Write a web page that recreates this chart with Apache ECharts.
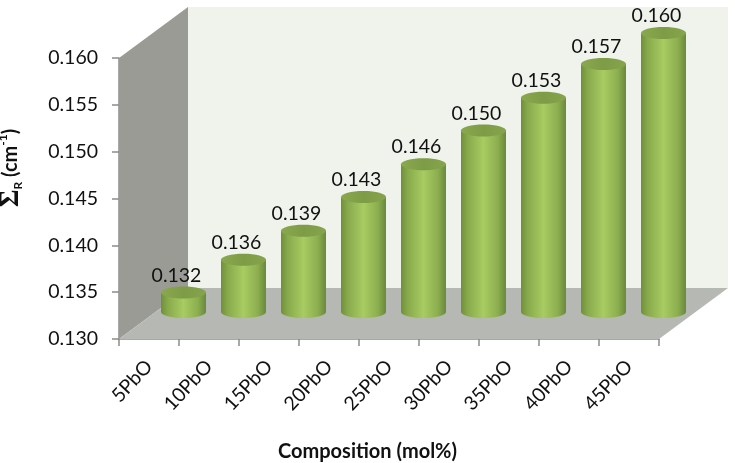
<!DOCTYPE html>
<html><head><meta charset="utf-8">
<style>html,body{margin:0;padding:0;background:#fff}#c{width:735px;height:463px}</style>
<script src="https://cdn.jsdelivr.net/npm/echarts@6/dist/echarts.min.js"></script>
</head><body><div id="c"></div>
<script>
const categories=['5PbO','10PbO','15PbO','20PbO','25PbO','30PbO','35PbO','40PbO','45PbO'];
const values=[0.1323,0.1358,0.1389,0.1425,0.1460,0.1496,0.1531,0.1567,0.1600];
const valueLabels=['0.132','0.136','0.139','0.143','0.146','0.150','0.153','0.157','0.160'];
const yMin=0.130,yMax=0.160,yStep=0.005;
const FONT='Lato, "Open Sans", sans-serif';
const DX=69,DY=51,BW=45,RY=6;
const chart=echarts.init(document.getElementById('c'),null,{renderer:'canvas'});
const bodyGrad={type:'linear',x:0,y:0,x2:1,y2:0,colorStops:[
 {offset:0,color:'#6f9039'},{offset:.15,color:'#88aa4c'},{offset:.5,color:'#a8cb62'},{offset:.82,color:'#8cae4f'},{offset:1,color:'#688a3a'}]};
const topGrad={type:'linear',x:0,y:0,x2:1,y2:0,colorStops:[
 {offset:0,color:'#8aa84f'},{offset:.5,color:'#7d9c45'},{offset:1,color:'#86a44c'}]};
chart.setOption({
 animation:false,
 grid:{left:119,top:58,width:540,height:281,containLabel:false},
 xAxis:{type:'category',data:categories,
  axisLine:{lineStyle:{color:'#8c8c8c',width:1.5}},
  axisTick:{show:true,length:7,lineStyle:{color:'#8c8c8c',width:1.5}},
  axisLabel:{rotate:47,fontFamily:FONT,fontSize:19.5,color:'#111',margin:24,interval:0},
  splitLine:{show:false}},
 yAxis:{type:'value',min:yMin,max:yMax,interval:yStep,
  axisLine:{show:true,lineStyle:{color:'#8c8c8c',width:1.5}},
  axisTick:{show:true,length:7,lineStyle:{color:'#8c8c8c',width:1.5}},
  axisLabel:{formatter:v=>v.toFixed(3),fontFamily:FONT,fontSize:19.5,color:'#111',margin:21,padding:[10,0,0,0]},
  splitLine:{show:false}},
 graphic:[
  {type:'text',left:278,top:442,style:{text:'Composition (mol%)',fontFamily:FONT,fontSize:20,fontWeight:'bold',fill:'#111'}},
  {type:'text',x:11,y:168,rotation:Math.PI/2,style:{
    text:'{s|Σ}{r|R}{b| (cm}{u|-1}{b|)}',align:'center',verticalAlign:'middle',
    rich:{s:{fontFamily:'"Liberation Serif",serif',fontSize:27,fontWeight:'bold',fill:'#111'},
     r:{fontFamily:FONT,fontSize:12,fontWeight:'bold',fill:'#111',verticalAlign:'bottom',padding:[8,0,0,0]},
     b:{fontFamily:FONT,fontSize:20,fontWeight:'bold',fill:'#111'},
     u:{fontFamily:FONT,fontSize:12,fontWeight:'bold',fill:'#111',verticalAlign:'top',padding:[0,0,6,0]}}}}
 ],
 series:[
  {type:'custom',z:1,clip:false,silent:true,data:[0],
   renderItem(p,api){
    const c=p.coordSys,l=c.x,t=c.y,r=c.x+c.width,b=c.y+c.height;
    return {type:'group',children:[
     {type:'polygon',shape:{points:[[l+DX,t-DY],[r+DX,t-DY],[r+DX,b-DY],[l+DX,b-DY]]},style:{fill:'#eff3ec'}},
     {type:'polygon',shape:{points:[[l,t],[l+DX,t-DY],[l+DX,b-DY],[l,b]]},style:{fill:'#9a9b95'}},
     {type:'polygon',shape:{points:[[l,b],[l+DX,b-DY],[r+DX,b-DY],[r,b]]},style:{fill:'#b6b9b3'}}
    ]};
   }},
  {type:'custom',z:3,clip:false,silent:true,
   data:values.map((v,i)=>[i,v]),
   encode:{x:0,y:1},
   renderItem(p,api){
    const top=api.coord([api.value(0),api.value(1)]);
    const base=api.coord([api.value(0),yMin]);
    const cx=top[0]+DX/2, ty=top[1]-DY/2+0.5, by=base[1]-DY/2-1.5;
    const x0=cx-BW/2;
    return {type:'group',children:[
     {type:'ellipse',shape:{cx,cy:by,rx:BW/2,ry:RY},style:{fill:bodyGrad}},
     {type:'rect',shape:{x:x0,y:ty,width:BW,height:by-ty},style:{fill:bodyGrad}},
     {type:'ellipse',shape:{cx,cy:ty,rx:BW/2,ry:RY},style:{fill:topGrad}},
     {type:'text',x:cx-7,y:ty-17,style:{text:valueLabels[p.dataIndex],align:'center',verticalAlign:'middle',fontFamily:FONT,fontSize:19.5,fill:'#111'}}
    ]};
   }}
 ]
});
</script></body></html>
